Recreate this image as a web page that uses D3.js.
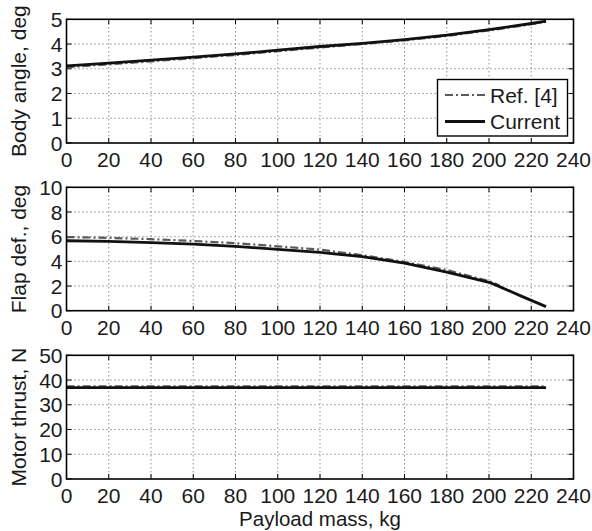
<!DOCTYPE html>
<html><head><meta charset="utf-8">
<script src="https://cdn.jsdelivr.net/npm/d3@7"></script>
<style>body{margin:0;background:#fff}svg{display:block}</style>
</head><body>
<svg id="c" width="592" height="531"></svg>
<script>
// ---- data ----
const xTicks = [0,20,40,60,80,100,120,140,160,180,200,220,240];
const seriesNames = ["Ref. [4]", "Current"];
// Body angle, deg
const bodyX   = [0,20,40,60,80,100,120,140,160,180,200,220,227];
const bodyCur = [3.12,3.23,3.35,3.47,3.6,3.75,3.9,4.03,4.18,4.36,4.58,4.83,4.93];
const bodyRef = [3.06,3.18,3.30,3.43,3.56,3.71,3.86,4.0,4.15,4.33,4.55,4.8,4.9];
const bodyTicks = [0,1,2,3,4,5];
// Flap def., deg
const flapX    = [0,20,40,60,80,100,120,140,160,180,200,205,215,227];
const flapCur  = [5.67,5.62,5.52,5.4,5.22,4.97,4.72,4.38,3.85,3.12,2.3,1.95,1.2,0.33];
const flapRefX = [0,20,40,60,80,100,120,140,160,180,200,205];
const flapRef  = [5.97,5.9,5.8,5.65,5.47,5.22,4.95,4.5,3.95,3.3,2.4,2.05];
const flapTicks = [0,2,4,6,8,10];
// Motor thrust, N
const thrX   = [0,227];
const thrCur = [36.9,36.9];
const thrRef = [37.5,37.5];
const thrTicks = [0,10,20,30,40,50];

// ---- layout ----
const svg = d3.select("#c");
const font = "'Liberation Sans', Arial, Helvetica, sans-serif";
const x = d3.scaleLinear().domain([0,240]).range([66.5,573.5]);
const panels = [
  {label:"Body angle, deg", top:19.3, bottom:143, dom:[0,5], ticks:bodyTicks,
   ref:{x:bodyX,y:bodyRef}, cur:{x:bodyX,y:bodyCur}, legend:true},
  {label:"Flap def., deg", top:187.3, bottom:310.7, dom:[0,10], ticks:flapTicks,
   ref:{x:flapRefX,y:flapRef}, cur:{x:flapX,y:flapCur}},
  {label:"Motor thrust, N", top:355.3, bottom:479, dom:[0,50], ticks:thrTicks,
   ref:{x:thrX,y:thrRef}, cur:{x:thrX,y:thrCur}}
];
const refStyle = {stroke:"#5a5a5a", width:2.2, dash:"8,3,2,3"};
const curStyle = {stroke:"#111", width:2.8, dash:null};

panels.forEach(p => {
  const y = d3.scaleLinear().domain(p.dom).range([p.bottom,p.top]);
  const g = svg.append("g");
  const x0 = x.range()[0], x1 = x.range()[1];
  // grid
  xTicks.slice(1,-1).forEach(t => g.append("line")
    .attr("x1",x(t)).attr("x2",x(t)).attr("y1",p.top).attr("y2",p.bottom)
    .attr("stroke","#333").attr("stroke-width",0.8).attr("stroke-dasharray","1,3"));
  p.ticks.slice(1,-1).forEach(t => g.append("line")
    .attr("x1",x0).attr("x2",x1).attr("y1",y(t)).attr("y2",y(t))
    .attr("stroke","#333").attr("stroke-width",0.8).attr("stroke-dasharray","1,3"));
  // tick marks inside (all four sides)
  xTicks.forEach(t => {
    g.append("line").attr("x1",x(t)).attr("x2",x(t)).attr("y1",p.bottom).attr("y2",p.bottom-5).attr("stroke","#000").attr("stroke-width",1);
    g.append("line").attr("x1",x(t)).attr("x2",x(t)).attr("y1",p.top).attr("y2",p.top+5).attr("stroke","#000").attr("stroke-width",1);
  });
  p.ticks.forEach(t => {
    g.append("line").attr("x1",x0).attr("x2",x0+5).attr("y1",y(t)).attr("y2",y(t)).attr("stroke","#000").attr("stroke-width",1);
    g.append("line").attr("x1",x1).attr("x2",x1-5).attr("y1",y(t)).attr("y2",y(t)).attr("stroke","#000").attr("stroke-width",1);
  });
  // lines
  const line = d3.line().x(d=>x(d[0])).y(d=>y(d[1]));
  [[p.ref,refStyle],[p.cur,curStyle]].forEach(([s,st]) => {
    const pts = s.x.map((v,i)=>[v,s.y[i]]);
    g.append("path").attr("d",line(pts)).attr("fill","none")
      .attr("stroke",st.stroke).attr("stroke-width",st.width)
      .attr("stroke-dasharray",st.dash).attr("stroke-linejoin","round");
  });
  // frame
  g.append("rect").attr("x",x0).attr("y",p.top).attr("width",x1-x0).attr("height",p.bottom-p.top)
    .attr("fill","none").attr("stroke","#000").attr("stroke-width",1.6);
  // tick labels
  xTicks.forEach(t => g.append("text").attr("x",x(t)).attr("y",p.bottom+24)
    .attr("text-anchor","middle").attr("font-family",font).attr("font-size",21).attr("fill","#1a1a1a").text(t));
  p.ticks.forEach(t => g.append("text").attr("x",x0-4).attr("y",y(t)+7.7)
    .attr("text-anchor","end").attr("font-family",font).attr("font-size",21).attr("fill","#1a1a1a").text(t));
  // y label
  g.append("text").attr("transform",`translate(26,${(p.top+p.bottom)/2}) rotate(-90)`)
    .attr("text-anchor","middle").attr("font-family",font).attr("font-size",21).attr("fill","#1a1a1a").text(p.label);
  // legend
  if (p.legend) {
    const lg = svg.append("g");
    lg.append("rect").attr("x",437.5).attr("y",79.5).attr("width",130).attr("height",56.5)
      .attr("fill","#fff").attr("stroke","#000").attr("stroke-width",1.4);
    [[refStyle,95],[curStyle,121.5]].forEach(([st,yy],i) => {
      lg.append("line").attr("x1",445).attr("x2",485).attr("y1",yy).attr("y2",yy)
        .attr("stroke",st.stroke).attr("stroke-width",st.width).attr("stroke-dasharray",st.dash);
      lg.append("text").attr("x",490).attr("y",yy+7.5).attr("font-family",font).attr("font-size",21)
        .attr("fill","#1a1a1a").text(seriesNames[i]);
    });
  }
});
svg.append("text").attr("x",320).attr("y",526).attr("text-anchor","middle")
  .attr("font-family",font).attr("font-size",20.5).attr("fill","#1a1a1a").text("Payload mass, kg");
</script>
</body></html>
